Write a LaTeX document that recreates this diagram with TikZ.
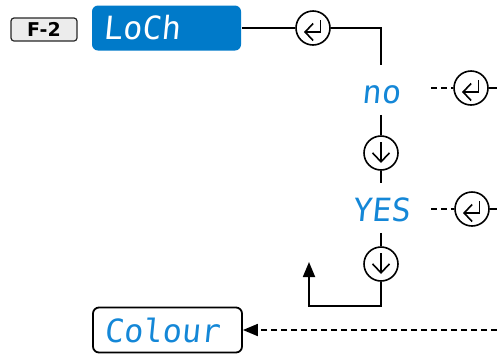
\documentclass[tikz,border=0pt]{standalone}
\usepackage{fontspec}
\setsansfont{DejaVu Sans}
\newfontfamily\segfont[FakeSlant=0.1]{DejaVu Sans Mono}
\newfontfamily\keyfont{DejaVu Sans Bold}
\usetikzlibrary{arrows.meta,calc}
\definecolor{lcdblue}{RGB}{0,122,201}
\definecolor{segblue}{RGB}{20,135,215}
\definecolor{keygray}{RGB}{236,236,236}

\begin{document}
\begin{tikzpicture}[
  x=1pt, y=-1pt,
  line width=1.8pt,
  menubox/.style={draw=black!85, fill=keygray, rounded corners=3pt, line width=1.2pt, minimum width=66pt, minimum height=23pt, inner sep=0pt, font=\keyfont\fontsize{19}{19}\selectfont},
  lcd/.style={rounded corners=6pt, minimum height=45pt, text width=127pt, inner xsep=11pt, inner ysep=0pt, align=left, font=\segfont\fontsize{32}{32}\selectfont},
  seg/.style={inner sep=0pt, text height=37pt, text depth=11pt, text=segblue, font=\segfont\fontsize{32}{32}\selectfont},
  key/.style={draw, circle, minimum size=34pt, inner sep=0pt, line width=1.6pt},
  enterkey/.style={key, path picture={\draw[line width=1.6pt, {Straight Barb[length=8pt,width=17pt]}-] ([shift={(-9,4)}]path picture bounding box.center) -- ++(16.5,0) -- ++(0,-12.5);}},
  downkey/.style={key, path picture={\draw[line width=1.6pt, -{Straight Barb[length=9pt,width=17pt]}] ([shift={(0,-11)}]path picture bounding box.center) -- ++(0,21);}},
  dashline/.style={dash pattern=on 6pt off 4pt},
  >={Triangle[length=15pt,width=12pt]},
]
\useasboundingbox (0,0) rectangle (497,354);

% ============ menu header ============
\node[menubox] (menu) at (44,29.5) {F-2};
\node[lcd, fill=lcdblue, text=white] (loch) at (166.5,28) {LoCh};
\node[enterkey] (ent0) at (313,28) {};

% ============ choices (middle column) ============
\node[seg] (no) at (381,90) {no};
\node[downkey] (dn1) at (381,153) {};
\node[seg] (yes) at (381,208) {YES};
\node[downkey] (dn2) at (381,264) {};

% ============ confirm keys (right) ============
\node[enterkey] (ent1) at (471,88) {};
\node[enterkey] (ent2) at (472,209) {};

% ============ next menu ============
\node[lcd, draw, text=segblue] (colour) at (167.5,330) {Colour};

% free ends
\coordinate (back) at (309,262);
\coordinate (d1) at (431,88);
\coordinate (r1) at (497,88);
\coordinate (d2) at (431,209);
\coordinate (r2) at (497,209);
\coordinate (r3) at (497,330);

% ===================== ARROWS =====================
\draw (loch.east) -- (ent0.west);
\draw (ent0.east) -| (no.north);
\draw (no.south) -- (dn1.north);
\draw (dn1.south) -- (yes.north);
\draw (yes.south) -- (dn2.north);
% loop back to the top of the list
\draw[->] (dn2.south) -- ++(0,24) -| (back);

% confirm branches
\draw[dashline] (d1) -- (ent1.west);
\draw (ent1.east) -- (r1);
\draw[dashline] (d2) -- (ent2.west);
\draw (ent2.east) -- (r2);

% return to the next menu
\draw[dashline,->] (r3) -- (colour.east);

\end{tikzpicture}
\end{document}
